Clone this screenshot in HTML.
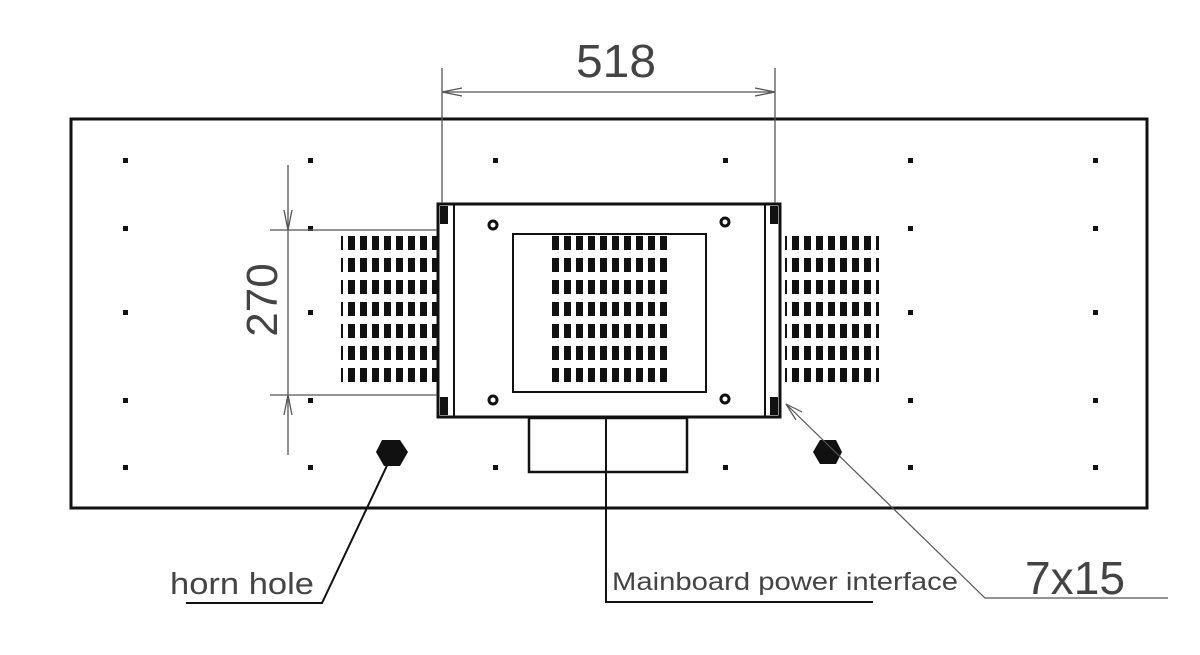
<!DOCTYPE html>
<html><head><meta charset="utf-8"><style>
html,body{margin:0;padding:0;background:#fff;}
svg{display:block;}
text{font-family:"Liberation Sans",sans-serif;fill:#444;}
</style></head><body>
<svg width="1200" height="655" viewBox="0 0 1200 655" xmlns="http://www.w3.org/2000/svg">
<defs>
<pattern id="vent" x="0" y="236" width="12" height="22" patternUnits="userSpaceOnUse">
<rect x="0" y="0" width="7" height="14" fill="#111"/>
</pattern>
</defs>
<rect x="71" y="119" width="1076" height="389" fill="none" stroke="#111" stroke-width="3"/>
<g fill="#111">
<g id="r"><rect x="123" y="158" width="5" height="5"/><rect x="308" y="158" width="5" height="5"/><rect x="493" y="158" width="5" height="5"/><rect x="723" y="158" width="5" height="5"/><rect x="908" y="158" width="5" height="5"/><rect x="1093" y="158" width="5" height="5"/></g>
<use href="#r" y="68"/><use href="#r" y="152"/><use href="#r" y="240"/><use href="#r" y="307"/>
</g>
<rect x="341" y="236" width="96" height="150" fill="url(#vent)"/>
<rect x="785" y="236" width="94" height="150" fill="url(#vent)"/>
<rect x="438" y="204" width="342" height="213" fill="#fff" stroke="#111" stroke-width="3"/>
<rect x="548" y="236" width="122" height="150" fill="url(#vent)"/>
<line x1="454" y1="204" x2="454" y2="417" stroke="#111" stroke-width="2"/>
<line x1="765" y1="204" x2="765" y2="417" stroke="#111" stroke-width="2"/>
<rect x="440" y="206" width="8" height="18" fill="#111"/><rect x="770" y="206" width="8" height="18" fill="#111"/>
<rect x="440" y="397" width="8" height="18" fill="#111"/><rect x="770" y="397" width="8" height="18" fill="#111"/>
<rect x="513" y="234" width="193" height="158" fill="none" stroke="#111" stroke-width="2"/>
<g fill="none" stroke="#111" stroke-width="3"><circle cx="493" cy="225" r="4"/><circle cx="725" cy="222" r="4"/><circle cx="493" cy="400" r="4"/><circle cx="725" cy="399" r="4"/></g>
<rect x="529" y="418" width="158" height="54" fill="#fff" stroke="#111" stroke-width="2.5"/>
<polygon points="382,440 400,440 408,452 400,466 384,466 376,452" fill="#111"/>
<polygon points="820,440 836,440 842,452 836,464 820,464 813,452" fill="#111"/>
<g stroke="#555" stroke-width="1.3" fill="none">
<line x1="442" y1="68" x2="442" y2="203"/><line x1="775" y1="68" x2="775" y2="203"/>
<line x1="442" y1="92" x2="775" y2="92"/>
<path d="M442 92 L462 88 M442 92 L462 96 M775 92 L755 88 M775 92 L755 96"/>
<line x1="270" y1="230" x2="437" y2="230"/><line x1="270" y1="395" x2="437" y2="395"/>
<line x1="288" y1="165" x2="288" y2="455"/>
<path d="M288 230 L284 210 M288 230 L292 210 M288 395 L284 415 M288 395 L292 415"/>
</g>
<text x="576" y="77" font-size="46" textLength="80" lengthAdjust="spacingAndGlyphs">518</text>
<text transform="translate(277,300) rotate(-90)" font-size="44" text-anchor="middle">270</text>
<g stroke="#111" fill="none">
<polyline points="392,455 322,603 186,603" stroke-width="2"/>
<polyline points="606,418 606,602 873,602" stroke-width="2"/>
<polyline points="786,404 985,598 1168,598" stroke-width="1.2" stroke="#555"/>
<path d="M786 404 L796 420 M786 404 L802 412" stroke="#555" stroke-width="1.2"/>
</g>
<text x="170" y="594" font-size="31" textLength="144" lengthAdjust="spacingAndGlyphs">horn hole</text>
<text x="612" y="590" font-size="25" textLength="346" lengthAdjust="spacingAndGlyphs">Mainboard power interface</text>
<text x="1025" y="594" font-size="46" textLength="100" lengthAdjust="spacingAndGlyphs">7x15</text>
</svg>
</body></html>
